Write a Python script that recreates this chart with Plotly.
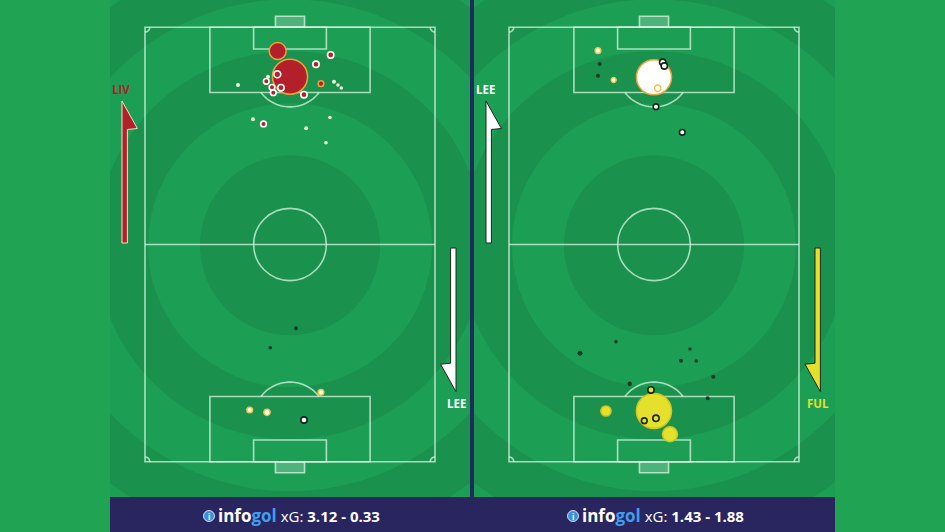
import math
import plotly.graph_objects as go

# ---------------- data ----------------
# pitch coordinates in metres: x across the pitch (0..73), y along it (0..110, top goal at 110)
panel_titles = ["LIV v LEE", "LEE v FUL"]
xg_text = ["3.12 - 0.33", "1.43 - 1.88"]

# left panel: Liverpool attack the top goal
liv_x = [33.40, 36.50, 46.74, 43.04, 33.30, 30.96, 30.53, 44.30, 47.57, 48.58, 49.41,
         23.41, 31.97, 34.23, 32.29, 40.02, 27.18, 29.83, 46.56, 40.57, 45.56]
liv_y = [104.0, 97.49, 102.99, 100.63, 98.10, 97.49, 96.33, 95.72, 96.23, 95.39, 94.63,
         95.39, 94.81, 94.71, 93.44, 92.93, 86.71, 85.52, 87.16, 84.43, 80.78]
liv_xg = [0.18, 0.77, 0.025, 0.025, 0.03, 0.01, 0.02, 0.02, 0.01, 0.008, 0.008,
          0.01, 0.02, 0.025, 0.02, 0.025, 0.01, 0.02, 0.008, 0.01, 0.008]
liv_res = ["goal", "goal", "on", "on", "on", "off", "on", "blocked", "off", "off", "off",
           "off", "on", "on", "on", "on", "off", "on", "off", "off", "off"]

# left panel: Leeds attack the bottom goal
lee1_x = [38.01, 31.54, 44.30, 26.35, 30.71, 40.02]
lee1_y = [33.78, 28.87, 17.57, 13.09, 12.51, 10.56]
lee1_xg = [0.01, 0.008, 0.02, 0.02, 0.025, 0.025]
lee1_res = ["off", "off", "blocked", "blocked", "blocked", "on"]

# right panel: Leeds attack the top goal
lee2_x = [22.40, 22.83, 22.40, 26.35, 36.49, 38.69, 39.09, 37.43, 37.00, 43.62]
lee2_y = [104.08, 100.71, 97.75, 96.66, 97.34, 101.14, 100.20, 94.56, 89.90, 83.41]
lee2_xg = [0.02, 0.01, 0.01, 0.015, 0.77, 0.025, 0.025, 0.025, 0.02, 0.02]
lee2_res = ["blocked", "off", "off", "blocked", "goal", "on", "on", "blocked", "on", "on"]

# right panel: Fulham attack the bottom goal
ful_x = [17.87, 26.93, 45.56, 43.30, 47.14, 51.42, 30.38, 35.74, 50.01, 24.41, 36.49, 40.52, 34.05, 37.00]
ful_y = [27.45, 30.39, 28.54, 25.58, 25.50, 21.52, 19.75, 18.16, 16.05, 12.84, 12.84, 6.94, 10.38, 10.99]
ful_xg = [0.015, 0.006, 0.008, 0.01, 0.008, 0.01, 0.012, 0.025, 0.01, 0.065, 0.77, 0.14, 0.02, 0.025]
ful_res = ["off", "off", "off", "off", "off", "off", "off", "on", "off", "goal", "goal", "goal", "on", "on"]

# ---------------- styles ----------------
W_PX, H_PX = 945, 532
PW, PL = 73.0, 110.0
SX = 290 / PW          # px per metre across
SY = 434.4 / PL        # px per metre along
PITCH_TOP = 27.3
PITCH_BOT = PITCH_TOP + 434.4
PANELS = [dict(x0=110, x1=470, pitch_left=145), dict(x0=474, x1=835, pitch_left=509)]
PANEL_BOTTOM = 497

MARGIN_GREEN = "#21a354"
LIGHT = "#1d9e55"
DARK = "#1a914d"
LINE = "rgba(225,250,230,0.72)"
NAVY = "#28255f"

STYLE = {
    "LIV": dict(fill="#b3202a", on="#ffffff", goal_line="#f0a23a", blocked="#f0a23a", off="#e6f6d8"),
    "LEE": dict(fill="#ffffff", on="#14251a", goal_line="#f0a23a", blocked="#f2c54a", off="#163d25"),
    "FUL": dict(fill="#e5e02c", on="#14251a", goal_line="#cfc624", blocked="#f0a23a", off="#163d25"),
}

fig = go.Figure()


def px2paper(px, py):
    return px / W_PX, 1 - py / H_PX


# ---- axes for the two panels ----
for i, p in enumerate(PANELS):
    sfx = "" if i == 0 else str(i + 1)
    xr = [(p["x0"] - p["pitch_left"]) / SX, (p["x1"] - p["pitch_left"]) / SX]
    yr = [(PITCH_BOT - PANEL_BOTTOM) / SY, PITCH_BOT / SY]
    fig.update_layout(**{
        "xaxis" + sfx: dict(domain=[p["x0"] / W_PX, p["x1"] / W_PX], range=xr, visible=False,
                            fixedrange=True, anchor="y" + sfx),
        "yaxis" + sfx: dict(domain=[1 - PANEL_BOTTOM / H_PX, 1], range=yr, visible=False,
                            fixedrange=True, anchor="x" + sfx),
    })

shapes = []

# ---- background rings ----
ring_r = [460, 402, 350, 298, 246, 194, 142, 90]
ring_c = [LIGHT, DARK, LIGHT, DARK, LIGHT, DARK, LIGHT, DARK]
for i in range(2):
    xref = "x" if i == 0 else "x2"
    yref = "y" if i == 0 else "y2"
    cx, cy = PW / 2, PL / 2 - 0.2
    for r, c in zip(ring_r, ring_c):
        rx, ry = r / SX, r / SY
        shapes.append(dict(type="circle", xref=xref, yref=yref, x0=cx - rx, x1=cx + rx,
                           y0=cy - ry, y1=cy + ry, fillcolor=c, line=dict(width=0), layer="below"))


def arc_path(cx, cy, r, a0, a1, n=40):
    pts = []
    for k in range(n + 1):
        a = math.radians(a0 + (a1 - a0) * k / n)
        pts.append((cx + r * math.cos(a), cy + r * math.sin(a)))
    return "M " + " L ".join(f"{x:.3f},{y:.3f}" for x, y in pts)


# ---- pitch markings ----
for i in range(2):
    xref = "x" if i == 0 else "x2"
    yref = "y" if i == 0 else "y2"
    ln = dict(color=LINE, width=1.6)

    def add(**kw):
        d = dict(xref=xref, yref=yref, line=ln, layer="below")
        d.update(kw)
        shapes.append(d)

    cx = PW / 2
    # goals (nets)
    add(type="rect", x0=cx - 3.66, x1=cx + 3.66, y0=PL, y1=PL + 2.8, fillcolor="rgba(255,255,255,0.22)")
    add(type="rect", x0=cx - 3.66, x1=cx + 3.66, y0=-2.8, y1=0, fillcolor="rgba(255,255,255,0.22)")
    add(type="rect", x0=0, x1=PW, y0=0, y1=PL)
    add(type="line", x0=0, x1=PW, y0=PL / 2, y1=PL / 2)
    add(type="circle", x0=cx - 9.15, x1=cx + 9.15, y0=PL / 2 - 9.15, y1=PL / 2 + 9.15)
    for top in (False, True):
        def yy(d):
            return PL - d if top else d
        add(type="rect", x0=cx - 20.16, x1=cx + 20.16, y0=yy(0), y1=yy(16.5))
        add(type="rect", x0=cx - 9.16, x1=cx + 9.16, y0=yy(0), y1=yy(5.5))
        ang = math.degrees(math.asin(5.5 / 9.15))
        if top:
            add(type="path", path=arc_path(cx, PL - 11, 9.15, 180 + ang, 360 - ang))
        else:
            add(type="path", path=arc_path(cx, 11, 9.15, ang, 180 - ang))
    # corner arcs
    add(type="path", path=arc_path(0, 0, 1.2, 0, 90, 10))
    add(type="path", path=arc_path(PW, 0, 1.2, 90, 180, 10))
    add(type="path", path=arc_path(0, PL, 1.2, 270, 360, 10))
    add(type="path", path=arc_path(PW, PL, 1.2, 180, 270, 10))

# ---- divider and bottom bar ----
x0, _ = px2paper(470, 0)
x1, _ = px2paper(474, 0)
shapes.append(dict(type="rect", xref="paper", yref="paper", x0=x0, x1=x1, y0=0, y1=1,
                   fillcolor="#1f2a5f", line=dict(width=0)))
bx0, by1 = px2paper(110, PANEL_BOTTOM)
bx1, _ = px2paper(835, 0)
shapes.append(dict(type="rect", xref="paper", yref="paper", x0=bx0, x1=bx1, y0=0, y1=by1,
                   fillcolor=NAVY, line=dict(width=0)))


# ---- direction arrows ----
def arrow(cx, y_base, y_tip, color, outline):
    hw = 2.7
    if y_tip > y_base:  # pointing down (barb on the left)
        pts = [(cx - hw, y_base), (cx - hw, y_tip - 28.5), (cx - hw - 10, y_tip - 27.5),
               (cx + hw, y_tip), (cx + hw, y_base)]
    else:  # pointing up (barb on the right)
        pts = [(cx + hw, y_base), (cx + hw, y_tip + 28.5), (cx + hw + 10, y_tip + 27.5),
               (cx - hw, y_tip), (cx - hw, y_base)]
    path = "M " + " L ".join("{:.5f},{:.5f}".format(*px2paper(x, y)) for x, y in pts) + " Z"
    shapes.append(dict(type="path", xref="paper", yref="paper", path=path, fillcolor=color,
                       line=dict(color=outline, width=1)))


arrow(124.7, 243, 101, "#b3202a", "#f3e0c8")
arrow(453.3, 248, 391.7, "#ffffff", "#1a2a1e")
arrow(488.7, 243, 101, "#ffffff", "#1a2a1e")
arrow(817.7, 248, 391.7, "#e5e02c", "#1a2a1e")

annotations = []


def label(text, px, py, color, size=11.5):
    x, y = px2paper(px, py)
    annotations.append(dict(text=f"<b>{text}</b>", x=x, y=y, xref="paper", yref="paper",
                            showarrow=False, xanchor="center", yanchor="middle",
                            font=dict(family="Open Sans", size=size, color=color)))


label("LIV", 121, 89, "#b3202a")
label("LEE", 456, 403, "#ffffff")
label("LEE", 486, 89, "#ffffff")
label("FUL", 818, 403, "#e5e02c")

# ---- bottom texts ----
for i, txt in enumerate(xg_text):
    icon_x = 209 + 364 * i
    ix, iy = px2paper(icon_x, 516)
    r = 5.5
    shapes.append(dict(type="circle", xref="paper", yref="paper",
                       x0=(icon_x - r) / W_PX, x1=(icon_x + r) / W_PX,
                       y0=1 - (516 + r) / H_PX, y1=1 - (516 - r) / H_PX,
                       fillcolor="#3d8fe0", line=dict(color="#ffffff", width=0.8)))
    annotations.append(dict(text="<b>i</b>", x=ix, y=iy, xref="paper", yref="paper", showarrow=False,
                            xanchor="center", yanchor="middle",
                            font=dict(family="Open Sans", size=8, color="#ffffff")))
    tx, ty = px2paper(icon_x + 7, 515.5)
    annotations.append(dict(
        text="<b><span style='font-size:17px'>info<span style='color:#3f9df0'>gol</span></span></b>"
             " xG: <b>" + txt + "</b>",
        x=tx, y=ty, xref="paper", yref="paper", showarrow=False, xanchor="left", yanchor="middle",
        font=dict(family="Open Sans", size=15, color="#ffffff")))


# ---- shots ----
def shot_trace(xs, ys, xgs, res, team, panel):
    st = STYLE[team]
    order = sorted(range(len(xs)), key=lambda k: -xgs[k])
    fills, lines, widths, sizes = [], [], [], []
    for k in order:
        r = res[k]
        sizes.append(max(3.6, 40 * math.sqrt(xgs[k])))
        if r == "goal":
            fills.append(st["fill"]); lines.append(st["goal_line"]); widths.append(1.5)
        elif r == "on":
            fills.append(st["fill"]); lines.append(st["on"]); widths.append(1.6)
        elif r == "blocked":
            fills.append(st["fill"]); lines.append(st["blocked"]); widths.append(1.5)
        else:
            fills.append(st["off"]); lines.append(st["off"]); widths.append(0)
    return go.Scatter(
        x=[xs[k] for k in order], y=[ys[k] for k in order], mode="markers",
        xaxis="x" if panel == 0 else "x2", yaxis="y" if panel == 0 else "y2",
        marker=dict(size=sizes, color=fills, line=dict(color=lines, width=widths), opacity=1),
        hoverinfo="skip", showlegend=False, name=team)


fig.add_trace(shot_trace(lee1_x, lee1_y, lee1_xg, lee1_res, "LEE", 0))
fig.add_trace(shot_trace(liv_x, liv_y, liv_xg, liv_res, "LIV", 0))
fig.add_trace(shot_trace(ful_x, ful_y, ful_xg, ful_res, "FUL", 1))
fig.add_trace(shot_trace(lee2_x, lee2_y, lee2_xg, lee2_res, "LEE", 1))

fig.update_layout(
    width=W_PX, height=H_PX, margin=dict(l=0, r=0, t=0, b=0),
    paper_bgcolor=MARGIN_GREEN, plot_bgcolor=LIGHT,
    shapes=shapes, annotations=annotations, showlegend=False,
)

fig.write_html("out.html", config={"displayModeBar": False},
               post_script="document.body.style.margin='0';document.body.style.overflow='hidden';")
